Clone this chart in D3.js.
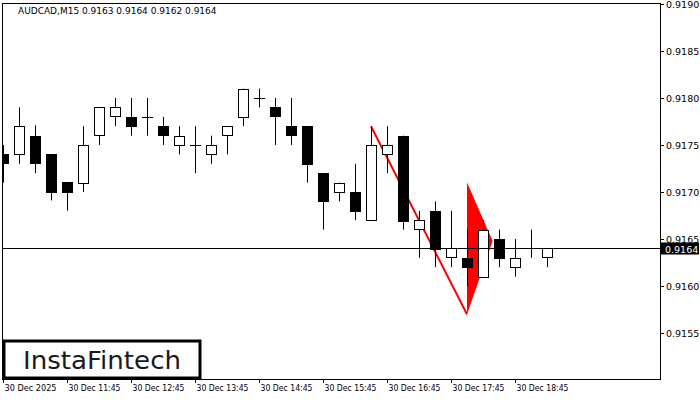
<!DOCTYPE html>
<html>
<head>
<meta charset="utf-8">
<script src="https://cdn.jsdelivr.net/npm/d3@7"></script>
<style>
  body { margin: 0; background: #fff; }
  text { font-family: "DejaVu Sans", sans-serif; }
</style>
</head>
<body>
<svg id="chart" width="700" height="400"></svg>
<script>
// OHLC values, one candle per 15 minutes
const opens  = [0.9174,0.9174,0.9176,0.9174,0.91711,0.9171,0.9176,0.9178,0.9178,0.9178,0.9177,0.9175,0.9175,0.9174,0.9176,0.9178,0.9180,0.9179,0.9177,0.9177,0.9172,0.9170,0.9170,0.9167,0.9174,0.9176,0.9166,0.9168,0.9163,0.9163,0.9161,0.9165,0.9162,0.9164,0.9163]
const highs  = [0.9175,0.9179,0.91771,0.9174,0.9171,0.9177,0.9179,0.9180,0.9180,0.9180,0.9178,0.9177,0.9177,0.9176,0.9177,0.9181,0.9181,0.9180,0.9180,0.9177,0.9172,0.9171,0.9173,0.9177,0.9177,0.9176,0.9168,0.9169,0.9168,0.9166,0.9167,0.9166,0.9165,0.9166,0.9164]
const lows   = [0.9171,0.9173,0.9172,0.91691,0.9168,0.9170,0.9175,0.9177,0.9176,0.9176,0.9175,0.9174,0.9172,0.9173,0.9174,0.9177,0.9179,0.9175,0.9175,0.9171,0.9166,0.9169,0.9167,0.9167,0.9172,0.9166,0.9163,0.9162,0.9162,0.9160,0.9161,0.9162,0.9161,0.9163,0.9162]
const closes = [0.9173,0.9177,0.91731,0.9170,0.9170,0.9175,0.9179,0.9179,0.9177,0.9178,0.9176,0.9176,0.9175,0.9175,0.9177,0.9181,0.9180,0.9178,0.9176,0.9173,0.9169,0.9171,0.9168,0.9175,0.9175,0.9167,0.9167,0.9164,0.9164,0.9162,0.9166,0.9163,0.9163,0.9164,0.9164]

const priceTicks = [0.9155,0.9160,0.9165,0.9170,0.9175,0.9180,0.9185,0.9190]
const timeLabels = ['30 Dec 2025','30 Dec 11:45','30 Dec 12:45','30 Dec 13:45','30 Dec 14:45','30 Dec 15:45','30 Dec 16:45','30 Dec 17:45','30 Dec 18:45']
const lastPrice = 0.9164

// pennant pattern: pole and flag as [candle index, price]
const pole = [[23,0.9177],[29,0.9157]]
const flag = [[29,0.9171],[29,0.9157],[30.6,0.91648]]

const svg = d3.select('#chart')
const plotLeft = 2, plotRight = 660, plotTop = 3, plotBottom = 379

const x = d3.scaleLinear().domain([0,1]).range([3,19])
const y = d3.scaleLinear().domain([0.9155,0.9190]).range([333,4])

svg.append('clipPath').attr('id', 'plot')
  .append('rect')
  .attr('x', plotLeft + 1).attr('y', plotTop + 1)
  .attr('width', plotRight - plotLeft - 1).attr('height', plotBottom - plotTop - 1)

// plot frame
svg.append('rect')
  .attr('x', plotLeft + 0.5).attr('y', plotTop + 0.5)
  .attr('width', plotRight - plotLeft).attr('height', plotBottom - plotTop)
  .attr('fill', 'none').attr('stroke', 'black')

// price axis
const yAxis = svg.append('g')
priceTicks.forEach(p => {
  yAxis.append('line')
    .attr('x1', plotRight).attr('x2', plotRight + 4)
    .attr('y1', Math.round(y(p)) + 0.5).attr('y2', Math.round(y(p)) + 0.5)
    .attr('stroke', 'black')
  yAxis.append('text')
    .attr('x', plotRight + 6).attr('y', y(p) + 4)
    .attr('font-size', 9.5).text(p.toFixed(4))
})

// time axis
timeLabels.forEach((t, i) => {
  const tx = Math.round(x(i * 4)) + 0.5
  svg.append('line')
    .attr('x1', tx).attr('x2', tx).attr('y1', plotBottom).attr('y2', plotBottom + 4)
    .attr('stroke', 'black')
  svg.append('text')
    .attr('x', tx + 1).attr('y', plotBottom + 12)
    .attr('font-size', 8.5).attr('textLength', 52).attr('lengthAdjust', 'spacingAndGlyphs')
    .text(t)
})

const chart = svg.append('g').attr('clip-path', 'url(#plot)')

// pennant
const pt = d => [x(d[0]), y(d[1])]
chart.append('polygon')
  .attr('points', flag.map(pt).map(d => d.join(',')).join(' '))
  .attr('fill', '#ff0000')
chart.append('line')
  .attr('x1', pt(pole[0])[0]).attr('y1', pt(pole[0])[1])
  .attr('x2', pt(pole[1])[0]).attr('y2', pt(pole[1])[1])
  .attr('stroke', '#ff0000').attr('stroke-width', 2)

// candles
const data = opens.map((o, i) => ({ o, h: highs[i], l: lows[i], c: closes[i], i }))
const g = chart.append('g').selectAll('g').data(data).enter().append('g')
g.append('line')
  .attr('x1', d => Math.round(x(d.i)) + 0.5).attr('x2', d => Math.round(x(d.i)) + 0.5)
  .attr('y1', d => y(d.h)).attr('y2', d => y(d.l))
  .attr('stroke', 'black')
g.filter(d => Math.abs(y(d.o) - y(d.c)) >= 1).append('rect')
  .attr('x', d => Math.round(x(d.i)) - 4.5)
  .attr('y', d => Math.round(y(Math.max(d.o, d.c))) + 0.5)
  .attr('width', 10)
  .attr('height', d => Math.round(Math.abs(y(d.o) - y(d.c))))
  .attr('fill', d => d.c >= d.o ? 'white' : 'black')
  .attr('stroke', 'black')
g.filter(d => Math.abs(y(d.o) - y(d.c)) < 1).append('line')
  .attr('x1', d => Math.round(x(d.i)) - 5).attr('x2', d => Math.round(x(d.i)) + 6)
  .attr('y1', d => Math.round(y(d.c)) + 0.5).attr('y2', d => Math.round(y(d.c)) + 0.5)
  .attr('stroke', 'black')

// current price line
const ly = Math.round(y(lastPrice)) + 0.5
svg.append('line')
  .attr('x1', plotLeft).attr('x2', plotRight).attr('y1', ly).attr('y2', ly)
  .attr('stroke', 'black')
svg.append('rect')
  .attr('x', plotRight + 1).attr('y', ly - 6).attr('width', 38).attr('height', 12)
  .attr('fill', 'black')
svg.append('text')
  .attr('x', plotRight + 5).attr('y', ly + 4)
  .attr('font-size', 9.5).attr('fill', 'white').text(lastPrice.toFixed(4))

// title
svg.append('text')
  .attr('x', 18).attr('y', 14).attr('font-size', 9)
  .text('AUDCAD,M15  0.9163 0.9164 0.9162 0.9164')

// logo
svg.append('rect')
  .attr('x', 4).attr('y', 341).attr('width', 196).attr('height', 37)
  .attr('fill', 'white').attr('stroke', 'black').attr('stroke-width', 3)
svg.append('text')
  .attr('x', 102).attr('y', 369).attr('text-anchor', 'middle')
  .attr('font-family', 'Inter, sans-serif').attr('font-size', 25).attr('fill', '#1a1a1a')
  .attr('textLength', 158).attr('lengthAdjust', 'spacingAndGlyphs')
  .text('InstaFintech')
</script>
</body>
</html>
